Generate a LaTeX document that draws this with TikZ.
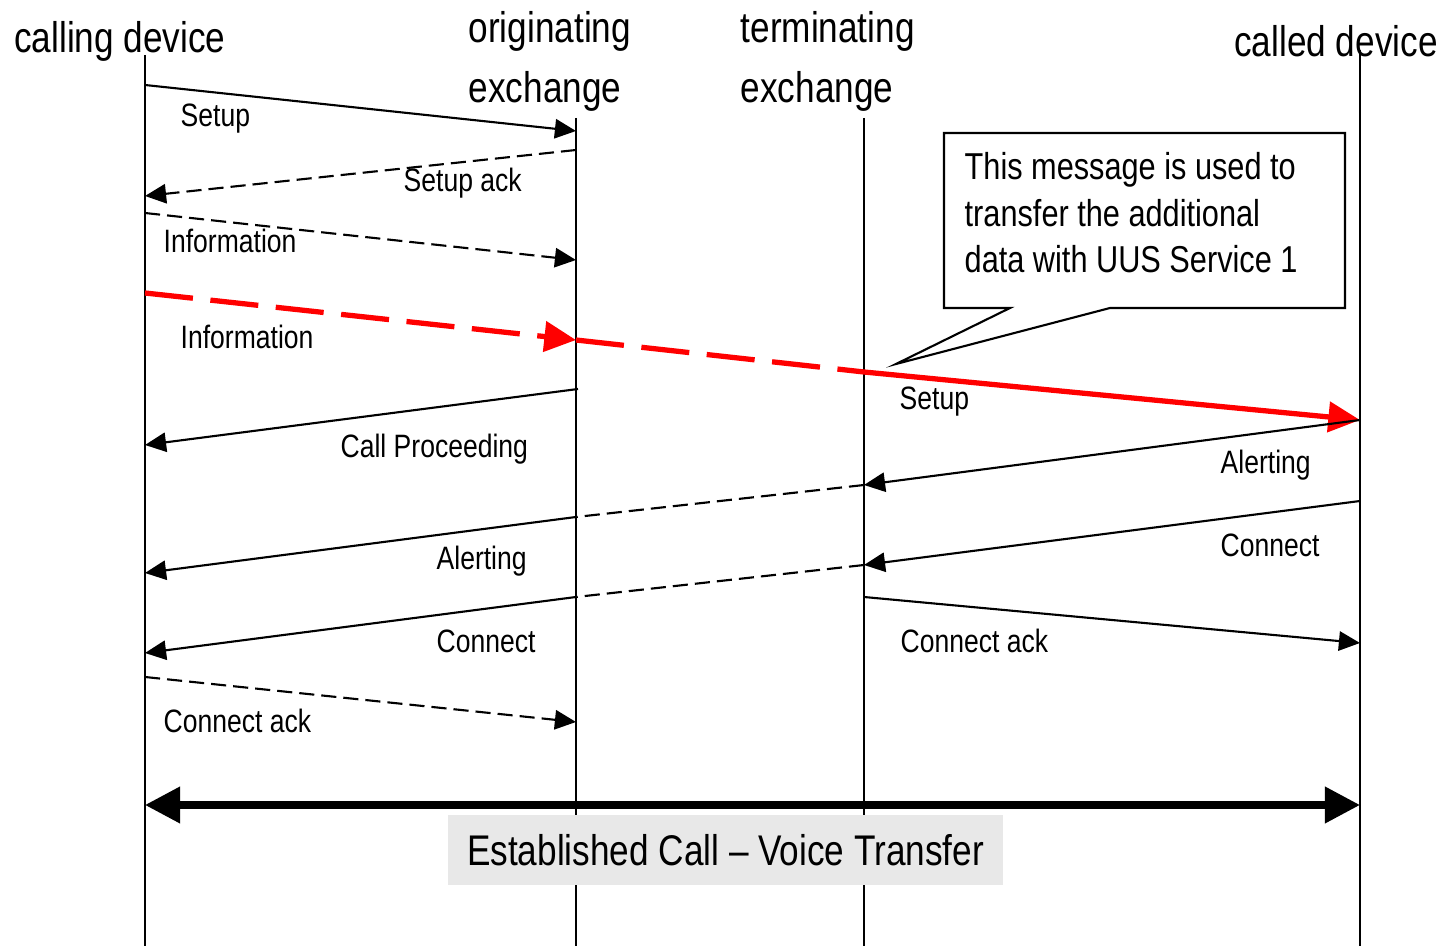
\documentclass[tikz,border=0pt]{standalone}
\usepackage{fontspec}
\setmainfont{Liberation Sans}[FakeStretch=0.82]
\usetikzlibrary{arrows.meta}

\begin{document}
\begin{tikzpicture}[x=0.01cm,y=-0.01cm,
	msg/.style={line width=0.6pt,-{Triangle[length=6pt,width=5.5pt]}},
	dsh/.style={dash pattern=on 4.3pt off 2pt},
	redmsg/.style={red,line width=1.5pt},
	lbl/.style={anchor=west,inner sep=0pt,yshift=-0.9pt,font=\fontsize{9.2}{11}\selectfont},
	head/.style={inner sep=0pt,yshift=-0.9pt,font=\fontsize{12.2}{14}\selectfont}]
\useasboundingbox (0,0) rectangle (1444,946);
% lifelines
\foreach \n/\x/\y in {cd/145/55,oe/576/118,te/864/118,dd/1360/50}
{
	\coordinate (\n top) at (\x,\y);
	\coordinate (\n bot) at (\x,946);
	\draw[line width=0.6pt] (\n top) -- (\n bot);
}
\node[head] (cdname) at (120,38) {calling device};
\node[head,anchor=west] (oename1) at (468,28) {originating};
\node[head,anchor=west] (oename2) at (468,88) {exchange};
\node[head,anchor=west] (tename1) at (740,28) {terminating};
\node[head,anchor=west] (tename2) at (740,88) {exchange};
\node[head] (ddname) at (1336,38) {called device};
% message end points
\foreach \n/\x/\y in {su0/145/85,su1/576/131,sa0/576/150,sa1/145/196,in0/145/213,in1/576/260,
	ri0/145/293,ri1/576/340,ri2/864/372,ri3/1360/420,cp0/578/389,cp1/145/445,
	al0/1360/420,al1/864/485,al2/576/517,al3/145/573,cn0/1360/501,cn1/864/565,cn2/576/597,cn3/145/653,
	ca0/864/597,ca1/1360/643,cb0/145/677,cb1/576/722,ec0/145/805,ec1/1360/805}
{
	\coordinate (\n) at (\x,\y);
}
\draw[msg] (su0) -- (su1);
\draw[msg,dsh] (sa0) -- (sa1);
\draw[msg,dsh] (in0) -- (in1);
\draw[redmsg,dash pattern=on 13.7pt off 5pt,-{Triangle[length=9pt,width=8.5pt]}] (ri0) -- (ri1);
\draw[redmsg,dash pattern=on 13.7pt off 5pt] (ri1) -- (ri2);
\draw[redmsg,-{Triangle[length=9pt,width=8.5pt]}] (ri2) -- (ri3);
\draw[msg] (cp0) -- (cp1);
\draw[msg] (al0) -- (al1);
\draw[line width=0.6pt,dsh] (al1) -- (al2);
\draw[msg] (al2) -- (al3);
\draw[msg] (cn0) -- (cn1);
\draw[line width=0.6pt,dsh] (cn1) -- (cn2);
\draw[msg] (cn2) -- (cn3);
\draw[msg] (ca0) -- (ca1);
\draw[msg,dsh] (cb0) -- (cb1);
% labels
\node[lbl] (lsu) at (180,115) {Setup};
\node[lbl] (lsa) at (403,180) {Setup ack};
\node[lbl] (lin) at (163,238) {Information};
\node[lbl] (lri) at (180,334) {Information};
\node[lbl] (lrs) at (899,398) {Setup};
\node[lbl] (lcp) at (340,446) {Call Proceeding};
\node[lbl] (lal0) at (1220,462) {Alerting};
\node[lbl] (lal1) at (436,558) {Alerting};
\node[lbl] (lcn0) at (1220,542) {Connect};
\node[lbl] (lcn1) at (436,638) {Connect};
\node[lbl] (lca) at (900,638) {Connect ack};
\node[lbl] (lcb) at (163,718) {Connect ack};
% callout
\draw[line width=0.6pt] (1010,308) -- (944,308) -- (944,133) -- (1345,133) -- (1345,308) -- (1110,308) -- (896,364) -- cycle;
\node[anchor=north west,inner sep=0pt,align=left,font=\fontsize{10.65}{13.2}\selectfont] (note) at (964,152)
	{This message is used to\\transfer the additional\\data with UUS Service 1};
% established call
\draw[line width=2pt,{Triangle[length=10pt,width=10pt]}-{Triangle[length=10pt,width=10pt]}] (ec0) -- (ec1);
\node[fill=black!9,minimum width=5.55cm,minimum height=0.7cm,inner sep=0pt,font=\fontsize{12.2}{14}\selectfont] (est) at (725.5,850)
	{Established Call -- Voice Transfer};
\end{tikzpicture}
\end{document}
